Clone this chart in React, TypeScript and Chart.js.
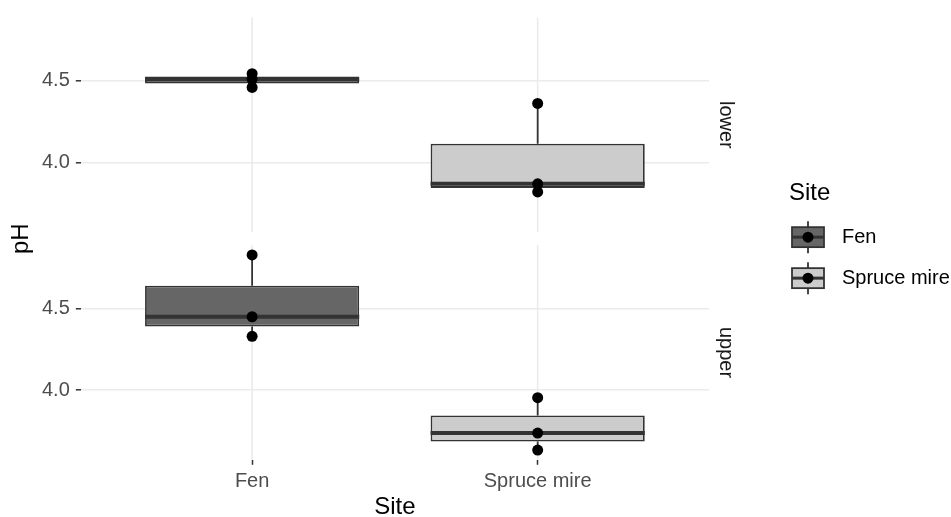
import React, { useEffect, useRef } from 'react';
import { Chart, registerables } from 'chart.js';

Chart.register(...registerables);

// ---------------- data ----------------
const categories = ['Fen', 'Spruce mire'];
const facets = ['lower', 'upper'];
const lowerFen = [4.545, 4.51, 4.46];
const lowerSpruce = [4.362, 3.868, 3.818];
const upperFen = [4.83, 4.45, 4.33];
const upperSpruce = [3.953, 3.735, 3.631];
const yTickValues = [4.0, 4.5];
const fillColors = ['#666666', '#CCCCCC'];
const xTitle = 'Site';
const yTitle = 'pH';
const legendTitle = 'Site';

const panelValues = [
  [lowerFen, lowerSpruce],
  [upperFen, upperSpruce],
];

// ---------------- helpers ----------------
const FONT = '"Liberation Sans", Arial, sans-serif';
const BOX = 0.75; // box width in category units
const LINE = '#333333';

function quantile(s: number[], p: number) {
  const h = (s.length - 1) * p;
  const lo = Math.floor(h);
  const hi = Math.ceil(h);
  return s[lo] + (h - lo) * (s[hi] - s[lo]);
}

function boxStats(vals: number[]) {
  const s = [...vals].sort((a, b) => a - b);
  const q1 = quantile(s, 0.25);
  const med = quantile(s, 0.5);
  const q3 = quantile(s, 0.75);
  const iqr = q3 - q1;
  const inLo = s.filter((v) => v >= q1 - 1.5 * iqr);
  const inHi = s.filter((v) => v <= q3 + 1.5 * iqr);
  return { q1, med, q3, wlo: Math.min(...inLo), whi: Math.max(...inHi) };
}

const allVals = panelValues.flat(2);
const dMin = Math.min(...allVals);
const dMax = Math.max(...allVals);
const yPad = (dMax - dMin) * 0.05;
const yMin = dMin - yPad;
const yMax = dMax + yPad;
const xMin = 1 - 0.6;
const xMax = categories.length + 0.6;

function buildDatasets() {
  const ds: any[] = [];
  panelValues.forEach((panel, p) => {
    const yID = 'y' + p;
    const stats = panel.map(boxStats);
    ds.push({
      type: 'scatter',
      yAxisID: yID,
      xAxisID: 'x',
      order: 0,
      data: panel.flatMap((vals, i) => vals.map((v) => ({ x: i + 1, y: v }))),
      pointRadius: 5.5,
      pointHoverRadius: 5.5,
      pointBackgroundColor: '#000000',
      pointBorderWidth: 0,
      showLine: false,
    });
    ds.push({
      type: 'line',
      yAxisID: yID,
      xAxisID: 'x',
      order: 1,
      data: stats.flatMap((st, i) => [
        { x: i + 1 - BOX / 2, y: st.med },
        { x: i + 1 + BOX / 2, y: st.med },
        { x: i + 1 + BOX / 2, y: null },
      ]),
      borderColor: LINE,
      borderWidth: 4,
      borderCapStyle: 'butt',
      pointRadius: 0,
      spanGaps: false,
      fill: false,
    });
    ds.push({
      type: 'bar',
      yAxisID: yID,
      xAxisID: 'x',
      order: 2,
      data: stats.map((st, i) => ({ x: i + 1, y: [st.q1, st.q3] })),
      backgroundColor: fillColors,
      borderColor: LINE,
      borderWidth: 1.8,
      borderSkipped: false,
      grouped: false,
      barPercentage: BOX,
      categoryPercentage: 1,
    });
    ds.push({
      type: 'line',
      yAxisID: yID,
      xAxisID: 'x',
      order: 3,
      data: stats.flatMap((st, i) => [
        { x: i + 1, y: st.q3 },
        { x: i + 1, y: st.whi },
        { x: i + 1, y: null },
        { x: i + 1, y: st.q1 },
        { x: i + 1, y: st.wlo },
        { x: i + 1, y: null },
      ]),
      borderColor: LINE,
      borderWidth: 1.8,
      pointRadius: 0,
      spanGaps: false,
      fill: false,
    });
  });
  return ds;
}

function panelAxis(weight: number) {
  return {
    type: 'linear',
    position: 'left',
    stack: 'left',
    stackWeight: 215,
    weight,
    min: yMin,
    max: yMax,
    afterBuildTicks: (s: any) => {
      s.ticks = yTickValues.map((v) => ({ value: v }));
    },
    ticks: {
      callback: (v: any) => Number(v).toFixed(1),
      color: '#4D4D4D',
      font: { family: FONT, size: 20, lineHeight: 1.15 },
      padding: 6,
    },
    grid: {
      color: '#EBEBEB',
      lineWidth: 1.6,
      tickColor: LINE,
      tickLength: 5,
      tickWidth: 1.5,
    },
    border: { display: false },
  };
}

function stripAxis(p: number, weight: number) {
  return {
    type: 'linear',
    position: 'right',
    stack: 'right',
    stackWeight: 215,
    weight,
    ticks: { display: false },
    grid: { display: false, drawTicks: false },
    border: { display: false },
    title: {
      display: true,
      text: facets[p],
      color: '#1A1A1A',
      font: { family: FONT, size: 20, lineHeight: 1 },
      padding: { top: 0, bottom: 7 },
    },
  };
}

const panelGridPlugin = {
  id: 'panelGrid',
  beforeDatasetsDraw(chart: any) {
    const { ctx } = chart;
    const x = chart.scales.x;
    ctx.save();
    ctx.strokeStyle = '#EBEBEB';
    ctx.lineWidth = 1.6;
    ['y0', 'y1'].forEach((id) => {
      const s = chart.scales[id];
      x.ticks.forEach((t: any) => {
        const px = x.getPixelForValue(t.value);
        ctx.beginPath();
        ctx.moveTo(px, s.top);
        ctx.lineTo(px, s.bottom);
        ctx.stroke();
      });
    });
    ctx.restore();
  },
};

const legendPlugin = {
  id: 'boxLegend',
  afterDraw(chart: any) {
    const { ctx, chartArea } = chart;
    const mid = (chartArea.top + chartArea.bottom) / 2;
    const left = chartArea.right + 80;
    ctx.save();
    ctx.textBaseline = 'middle';
    ctx.textAlign = 'left';
    ctx.fillStyle = '#000000';
    ctx.font = `24px ${FONT}`;
    ctx.fillText(legendTitle, left, mid - 45.5);
    categories.forEach((c, i) => {
      const cy = mid - 1.5 + i * 41;
      const cx = left + 19;
      ctx.strokeStyle = LINE;
      ctx.lineWidth = 1.8;
      ctx.beginPath();
      ctx.moveTo(cx, cy - 16);
      ctx.lineTo(cx, cy + 16);
      ctx.stroke();
      ctx.fillStyle = fillColors[i];
      ctx.fillRect(cx - 16, cy - 10, 32, 20);
      ctx.strokeRect(cx - 16, cy - 10, 32, 20);
      ctx.lineWidth = 3;
      ctx.beginPath();
      ctx.moveTo(cx - 16, cy);
      ctx.lineTo(cx + 16, cy);
      ctx.stroke();
      ctx.fillStyle = '#000000';
      ctx.beginPath();
      ctx.arc(cx, cy, 5.5, 0, Math.PI * 2);
      ctx.fill();
      ctx.font = `20px ${FONT}`;
      ctx.fillText(c, left + 53, cy);
    });
    ctx.restore();
  },
};

export default function App() {
  const ref = useRef<HTMLCanvasElement | null>(null);

  useEffect(() => {
    if (!ref.current) return;
    Chart.defaults.font.family = FONT;
    const chart = new Chart(ref.current, {
      type: 'bar',
      data: { datasets: buildDatasets() },
      options: {
        responsive: false,
        animation: false,
        events: [],
        layout: { padding: { top: 17, right: 215, bottom: 0, left: 0 } },
        plugins: { legend: { display: false }, tooltip: { enabled: false } },
        scales: {
          x: {
            type: 'linear',
            position: 'bottom',
            offset: false,
            min: xMin,
            max: xMax,
            afterBuildTicks: (s: any) => {
              s.ticks = categories.map((_, i) => ({ value: i + 1 }));
            },
            ticks: {
              callback: (v: any) => categories[Math.round(Number(v)) - 1] ?? '',
              color: '#4D4D4D',
              font: { family: FONT, size: 20, lineHeight: 1.15 },
              padding: 5,
              maxRotation: 0,
              autoSkip: false,
            },
            grid: {
              offset: false,
              drawOnChartArea: false,
              tickColor: LINE,
              tickLength: 5,
              tickWidth: 1.5,
            },
            border: { display: false },
            title: {
              display: true,
              text: xTitle,
              color: '#000000',
              font: { family: FONT, size: 24, lineHeight: 0.8 },
              padding: { top: 0, bottom: 0 },
            },
          },
          yT: {
            type: 'linear',
            position: 'left',
            weight: 10,
            ticks: { display: false },
            grid: { display: false, drawTicks: false },
            border: { display: false },
            title: {
              display: true,
              text: yTitle,
              color: '#000000',
              font: { family: FONT, size: 24, lineHeight: 1 },
              padding: { top: 9, bottom: 3 },
            },
          },
          y0: panelAxis(3),
          gapL: {
            type: 'linear',
            display: false,
            position: 'left',
            stack: 'left',
            stackWeight: 13,
            weight: 2,
          },
          y1: panelAxis(1),
          r0: stripAxis(0, 1),
          gapR: {
            type: 'linear',
            display: false,
            position: 'right',
            stack: 'right',
            stackWeight: 13,
            weight: 2,
          },
          r1: stripAxis(1, 3),
        },
      } as any,
      plugins: [panelGridPlugin, legendPlugin],
    });
    return () => chart.destroy();
  }, []);

  return (
    <div style={{ position: 'absolute', left: 0, top: 0, width: 951, height: 517, background: '#ffffff' }}>
      <canvas ref={ref} width={951} height={517} style={{ display: 'block', width: 951, height: 517 }} />
    </div>
  );
}
